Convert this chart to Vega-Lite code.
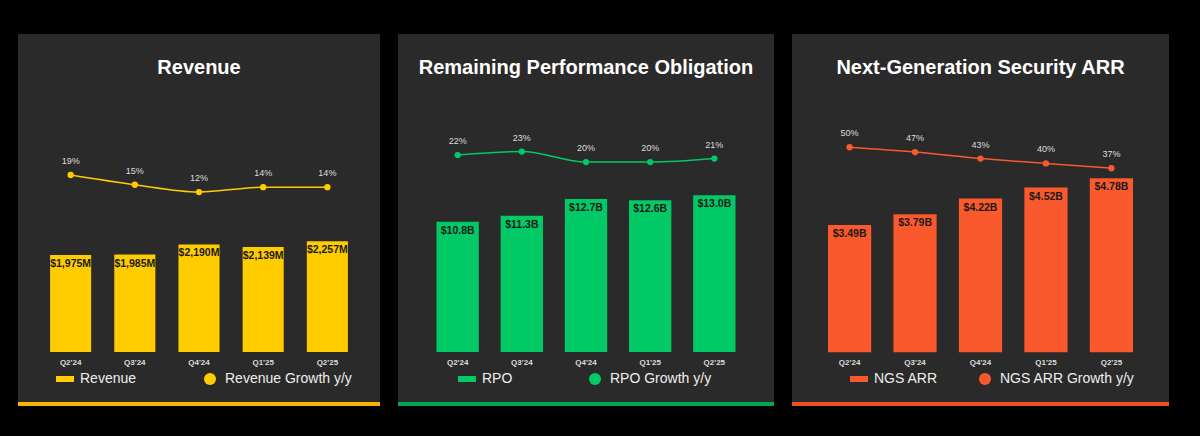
{
  "$schema": "https://vega.github.io/schema/vega-lite/v6.json",
  "background": "#000000",
  "padding": {"left": 16, "top": 34, "right": 33, "bottom": 30},
  "spacing": 14,
  "config": {
    "font": "Liberation Sans",
    "view": {"fill": "#2b2a2a", "stroke": null},
    "title": {"color": "#ffffff", "fontSize": 20, "fontWeight": "bold", "offset": -44, "font": "Liberation Sans"},
    "axisX": {"orient": "bottom", "offset": -52, "domain": false, "ticks": false, "labelColor": "#dddddd", "labelFontSize": 8, "labelFontWeight": "bold", "title": null, "labelAngle": 0, "labelPadding": 4},
    "legend": {"orient": "none", "legendY": 338, "direction": "horizontal", "columns": 2, "labelColor": "#eeeeee", "labelFontSize": 14, "labelFont": "Liberation Sans", "symbolSize": 144, "symbolStrokeWidth": 0, "title": null, "labelOffset": 8}
  },
  "resolve": {"scale": {"color": "independent", "shape": "independent"}},
  "hconcat": [
    {
      "width": 362, "height": 372,
      "title": "Revenue",
      "data": {"values": [
        {"q": "Q2'24", "v": 1975, "g": 19, "vl": "$1,975M", "gl": "19%", "s": "Revenue Growth y/y"},
        {"q": "Q3'24", "v": 1985, "g": 15, "vl": "$1,985M", "gl": "15%", "s": "Revenue Growth y/y"},
        {"q": "Q4'24", "v": 2190, "g": 12, "vl": "$2,190M", "gl": "12%", "s": "Revenue Growth y/y"},
        {"q": "Q1'25", "v": 2139, "g": 14, "vl": "$2,139M", "gl": "14%", "s": "Revenue Growth y/y"},
        {"q": "Q2'25", "v": 2257, "g": 14, "vl": "$2,257M", "gl": "14%", "s": "Revenue Growth y/y"}
      ]},
      "encoding": {"x": {"field": "q", "type": "nominal", "sort": null, "scale": {"paddingInner": 0.36, "paddingOuter": 0.5}}},
      "layer": [
        {"mark": {"type": "bar", "color": "#ffcc00"}, "encoding": {"y": {"field": "v", "type": "quantitative", "scale": {"domain": [-1099, 6475]}, "axis": null}}},
        {"mark": {"type": "text", "color": "#1a1a1a", "fontWeight": "bold", "fontSize": 10.5, "baseline": "top", "dy": 4}, "encoding": {"y": {"field": "v", "type": "quantitative", "scale": {"domain": [-1099, 6475]}, "axis": null}, "text": {"field": "vl"}}},
        {"mark": {"type": "rule", "color": "#f7b500", "strokeWidth": 4}, "encoding": {"x": null, "y": {"datum": -1058, "type": "quantitative", "scale": {"domain": [-1099, 6475]}, "axis": null}}},
        {"mark": {"type": "line", "color": "#ffcc00", "strokeWidth": 1.5, "interpolate": "monotone"}, "encoding": {"y": {"field": "g", "type": "quantitative", "scale": {"domain": [-76, 77]}, "axis": null}}},
        {"mark": {"type": "point", "filled": true, "size": 40, "opacity": 1}, "encoding": {
          "y": {"field": "g", "type": "quantitative", "scale": {"domain": [-76, 77]}, "axis": null},
          "color": {"field": "s", "type": "nominal", "scale": {"domain": ["Revenue", "Revenue Growth y/y"], "range": ["#ffcc00", "#ffcc00"]}, "legend": {"legendX": 40, "columnPadding": 66}},
          "shape": {"field": "s", "type": "nominal", "scale": {"domain": ["Revenue", "Revenue Growth y/y"], "range": ["M-1.5,-0.5H1.5V0.5H-1.5Z", "circle"]}, "legend": {"legendX": 40, "columnPadding": 66}}}},
        {"mark": {"type": "text", "color": "#dddddd", "fontSize": 9, "dy": -14}, "encoding": {"y": {"field": "g", "type": "quantitative", "scale": {"domain": [-76, 77]}, "axis": null}, "text": {"field": "gl"}}}
      ],
      "resolve": {"scale": {"y": "independent"}}
    },
    {
      "width": 376, "height": 372,
      "title": "Remaining Performance Obligation",
      "data": {"values": [
        {"q": "Q2'24", "v": 10.8, "g": 22, "vl": "$10.8B", "gl": "22%", "s": "RPO Growth y/y"},
        {"q": "Q3'24", "v": 11.3, "g": 23, "vl": "$11.3B", "gl": "23%", "s": "RPO Growth y/y"},
        {"q": "Q4'24", "v": 12.7, "g": 20, "vl": "$12.7B", "gl": "20%", "s": "RPO Growth y/y"},
        {"q": "Q1'25", "v": 12.6, "g": 20, "vl": "$12.6B", "gl": "20%", "s": "RPO Growth y/y"},
        {"q": "Q2'25", "v": 13.0, "g": 21, "vl": "$13.0B", "gl": "21%", "s": "RPO Growth y/y"}
      ]},
      "encoding": {"x": {"field": "q", "type": "nominal", "sort": null, "scale": {"paddingInner": 0.34, "paddingOuter": 0.6}}},
      "layer": [
        {"mark": {"type": "bar", "color": "#00c965"}, "encoding": {"y": {"field": "v", "type": "quantitative", "scale": {"domain": [-4.49, 26.4]}, "axis": null}}},
        {"mark": {"type": "text", "color": "#1a1a1a", "fontWeight": "bold", "fontSize": 10.5, "baseline": "top", "dy": 4}, "encoding": {"y": {"field": "v", "type": "quantitative", "scale": {"domain": [-4.49, 26.4]}, "axis": null}, "text": {"field": "vl"}}},
        {"mark": {"type": "rule", "color": "#00a651", "strokeWidth": 4}, "encoding": {"x": null, "y": {"datum": -4.32, "type": "quantitative", "scale": {"domain": [-4.49, 26.4]}, "axis": null}}},
        {"mark": {"type": "line", "color": "#00c965", "strokeWidth": 1.5, "interpolate": "monotone"}, "encoding": {"y": {"field": "g", "type": "quantitative", "scale": {"domain": [-49.7, 56.6]}, "axis": null}}},
        {"mark": {"type": "point", "filled": true, "size": 40, "opacity": 1}, "encoding": {
          "y": {"field": "g", "type": "quantitative", "scale": {"domain": [-49.7, 56.6]}, "axis": null},
          "color": {"field": "s", "type": "nominal", "scale": {"domain": ["RPO", "RPO Growth y/y"], "range": ["#00c965", "#00c965"]}, "legend": {"legendX": 62, "columnPadding": 75}},
          "shape": {"field": "s", "type": "nominal", "scale": {"domain": ["RPO", "RPO Growth y/y"], "range": ["M-1.5,-0.5H1.5V0.5H-1.5Z", "circle"]}, "legend": {"legendX": 62, "columnPadding": 75}}}},
        {"mark": {"type": "text", "color": "#dddddd", "fontSize": 9, "dy": -14}, "encoding": {"y": {"field": "g", "type": "quantitative", "scale": {"domain": [-49.7, 56.6]}, "axis": null}, "text": {"field": "gl"}}}
      ],
      "resolve": {"scale": {"y": "independent"}}
    },
    {
      "width": 377, "height": 372,
      "title": "Next-Generation Security ARR",
      "data": {"values": [
        {"q": "Q2'24", "v": 3.49, "g": 50, "vl": "$3.49B", "gl": "50%", "s": "NGS ARR Growth y/y"},
        {"q": "Q3'24", "v": 3.79, "g": 47, "vl": "$3.79B", "gl": "47%", "s": "NGS ARR Growth y/y"},
        {"q": "Q4'24", "v": 4.22, "g": 43, "vl": "$4.22B", "gl": "43%", "s": "NGS ARR Growth y/y"},
        {"q": "Q1'25", "v": 4.52, "g": 40, "vl": "$4.52B", "gl": "40%", "s": "NGS ARR Growth y/y"},
        {"q": "Q2'25", "v": 4.78, "g": 37, "vl": "$4.78B", "gl": "37%", "s": "NGS ARR Growth y/y"}
      ]},
      "encoding": {"x": {"field": "q", "type": "nominal", "sort": null, "scale": {"paddingInner": 0.34, "paddingOuter": 0.55}}},
      "layer": [
        {"mark": {"type": "bar", "color": "#fa582d"}, "encoding": {"y": {"field": "v", "type": "quantitative", "scale": {"domain": [-1.48, 8.74]}, "axis": null}}},
        {"mark": {"type": "text", "color": "#1a1a1a", "fontWeight": "bold", "fontSize": 10.5, "baseline": "top", "dy": 4}, "encoding": {"y": {"field": "v", "type": "quantitative", "scale": {"domain": [-1.48, 8.74]}, "axis": null}, "text": {"field": "vl"}}},
        {"mark": {"type": "rule", "color": "#f04e23", "strokeWidth": 4}, "encoding": {"x": null, "y": {"datum": -1.425, "type": "quantitative", "scale": {"domain": [-1.48, 8.74]}, "axis": null}}},
        {"mark": {"type": "line", "color": "#fa582d", "strokeWidth": 1.5, "interpolate": "monotone"}, "encoding": {"y": {"field": "g", "type": "quantitative", "scale": {"domain": [-110, 120]}, "axis": null}}},
        {"mark": {"type": "point", "filled": true, "size": 40, "opacity": 1}, "encoding": {
          "y": {"field": "g", "type": "quantitative", "scale": {"domain": [-110, 120]}, "axis": null},
          "color": {"field": "s", "type": "nominal", "scale": {"domain": ["NGS ARR", "NGS ARR Growth y/y"], "range": ["#fa582d", "#fa582d"]}, "legend": {"legendX": 60, "columnPadding": 40}},
          "shape": {"field": "s", "type": "nominal", "scale": {"domain": ["NGS ARR", "NGS ARR Growth y/y"], "range": ["M-1.5,-0.5H1.5V0.5H-1.5Z", "circle"]}, "legend": {"legendX": 60, "columnPadding": 40}}}},
        {"mark": {"type": "text", "color": "#dddddd", "fontSize": 9, "dy": -14}, "encoding": {"y": {"field": "g", "type": "quantitative", "scale": {"domain": [-110, 120]}, "axis": null}, "text": {"field": "gl"}}}
      ],
      "resolve": {"scale": {"y": "independent"}}
    }
  ]
}
